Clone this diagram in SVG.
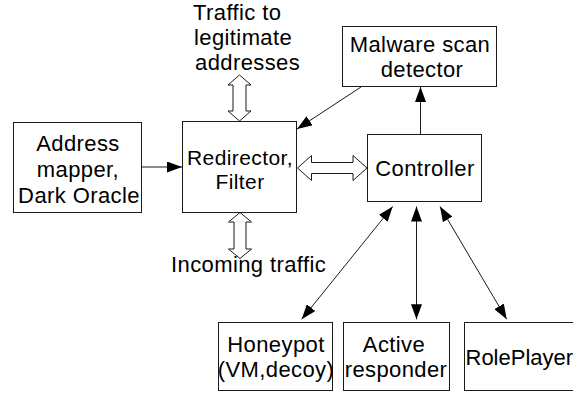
<svg xmlns="http://www.w3.org/2000/svg" width="573" height="394" viewBox="0 0 573 394">
  <style>
    .box { fill: #fff; stroke: #1a1a1a; stroke-width: 1; }
    .lbl { font-family: "Liberation Sans", Arial, sans-serif; font-size: 22px; letter-spacing: 0.4px; fill: #000; text-anchor: middle; }
    .lft { text-anchor: start; }
    .sm { font-size: 21px; }
    .tight { letter-spacing: 0; }
    .wire { stroke: #1a1a1a; stroke-width: 1; fill: none; }
    .hollow { fill: #fff; stroke: #1a1a1a; stroke-width: 1; stroke-linejoin: miter; }
  </style>
  <defs>
    <marker id="tip" markerUnits="userSpaceOnUse" markerWidth="15" markerHeight="11" refX="15" refY="5.5" orient="auto-start-reverse">
      <path d="M0,0 L15,5.5 L0,11 z" fill="#000"/>
    </marker>
  </defs>
  <rect width="573" height="394" fill="#fff"/>

  <g id="traffic-legit">
    <text class="lbl lft" x="193" y="20">Traffic to</text>
    <text class="lbl lft" x="194" y="45">legitimate</text>
    <text class="lbl lft" x="195" y="70">addresses</text>
  </g>

  <g id="malware-detector">
    <rect class="box" x="342.5" y="26.5" width="154" height="60"/>
    <text class="lbl" x="420" y="52">Malware scan</text>
    <text class="lbl" x="422" y="77">detector</text>
  </g>

  <g id="address-mapper">
    <rect class="box" x="13.5" y="122.5" width="128" height="90"/>
    <text class="lbl" x="78" y="151">Address</text>
    <text class="lbl" x="78" y="177">mapper,</text>
    <text class="lbl" x="79" y="203">Dark Oracle</text>
  </g>

  <g id="redirector">
    <rect class="box" x="182.5" y="121.5" width="114" height="91"/>
    <text class="lbl sm" x="240" y="165">Redirector,</text>
    <text class="lbl sm" x="240" y="189">Filter</text>
  </g>

  <g id="controller">
    <rect class="box" x="367.5" y="134.5" width="114" height="67"/>
    <text class="lbl" x="425" y="176">Controller</text>
  </g>

  <g id="incoming">
    <text class="lbl lft" x="171" y="272">Incoming traffic</text>
  </g>

  <g id="honeypot">
    <rect class="box" x="218.5" y="322.5" width="114" height="68"/>
    <text class="lbl" x="276" y="352">Honeypot</text>
    <text class="lbl" x="276" y="377">(VM,decoy)</text>
  </g>

  <g id="active-responder">
    <rect class="box" x="343.5" y="322.5" width="106" height="68"/>
    <text class="lbl" x="394" y="352">Active</text>
    <text class="lbl" x="396" y="377">responder</text>
  </g>

  <g id="roleplayer">
    <rect class="box" x="464.5" y="322.5" width="120" height="68"/>
    <text class="lbl lft tight" x="465.5" y="365">RolePlayer</text>
  </g>

  <g id="connectors">
    <!-- solid arrows -->
    <line class="wire" x1="141.5" y1="167" x2="182" y2="167" marker-end="url(#tip)"/>
    <line class="wire" x1="361" y1="87" x2="297" y2="129" marker-end="url(#tip)"/>
    <line class="wire" x1="420.5" y1="134" x2="420.5" y2="87" marker-end="url(#tip)"/>
    <line class="wire" x1="392.7" y1="206.5" x2="301.7" y2="319.3" marker-start="url(#tip)" marker-end="url(#tip)"/>
    <line class="wire" x1="416.5" y1="206.5" x2="416.5" y2="319.3" marker-start="url(#tip)" marker-end="url(#tip)"/>
    <line class="wire" x1="440" y1="206.5" x2="506.7" y2="319.3" marker-start="url(#tip)" marker-end="url(#tip)"/>
    <!-- hollow double arrows -->
    <polygon class="hollow" points="239.5,75 251,85 246,85 246,111 251,111 239.5,121 228,111 233,111 233,85 228,85"/>
    <polygon class="hollow" points="240,212.5 251.5,222 246,222 246,249 251.5,249 240,258.5 228.5,249 234,249 234,222 228.5,222"/>
    <polygon class="hollow" points="297.5,168 311.5,155.5 311.5,162.5 353,162.5 353,155.5 367,168 353,180.5 353,173.5 311.5,173.5 311.5,180.5"/>
  </g>
</svg>
